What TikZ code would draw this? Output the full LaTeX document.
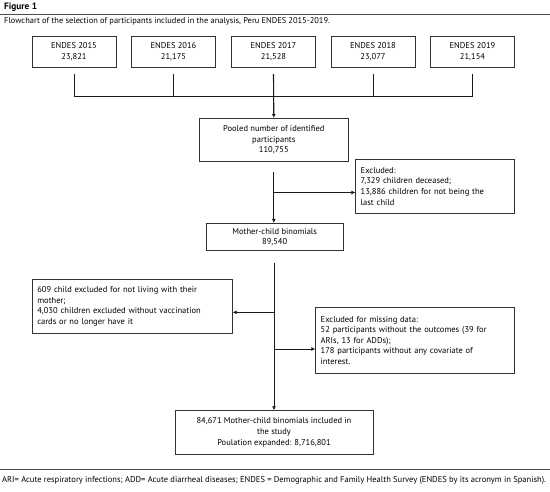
\documentclass[tikz,border=0pt]{standalone}
\usepackage{fontspec}
\setmainfont{PT Sans}
\usetikzlibrary{arrows.meta}
\newcommand\bodyfs{\fontsize{8.5}{10.6}\selectfont}
\newcommand\capfs{\fontsize{8.4}{9}\selectfont}
\newcommand\footfs{\fontsize{8.5}{9}\selectfont}
\begin{document}
\begin{tikzpicture}[x=1pt,y=-1pt,
  box/.style={draw=black!80, line width=0.7pt, inner xsep=4pt, inner ysep=0pt, align=center, font=\bodyfs},
  lbox/.style={draw=black!80, line width=0.7pt, inner xsep=5pt, inner ysep=0pt, align=left, font=\bodyfs},
  conn/.style={draw=black!90, line width=0.9pt},
  arr/.style={conn, -{Latex[length=4pt,width=4pt]}}]
\useasboundingbox (0,0) rectangle (550,491);
% header
\node[anchor=west, inner sep=0pt, font=\fontsize{9.3}{10}\selectfont\bfseries] (fig) at (4,6.7) {Figure 1};
\coordinate (rl) at (0,14);
\coordinate (rr) at (550,14);
\draw[line width=0.8pt, black!70] (rl) -- (rr);
\node[anchor=west, inner sep=0pt, font=\capfs] (cap) at (4,21.7) {Flowchart of the selection of participants included in the analysis, Peru ENDES 2015-2019.};
% year boxes
\foreach \n/\x/\yr/\v in {e1/74/2015/23{,}821, e2/173.5/2016/21{,}175, e3/273.5/2017/21{,}528, e4/373/2018/23{,}077, e5/472.5/2019/21{,}154}{
  \node[box, minimum width=84pt, minimum height=31pt] (\n) at (\x,51.5) {ENDES \yr\\\v};
}
\coordinate (bus) at (0,96);
\foreach \n in {e1,e2,e4,e5}{
  \draw[conn] ([yshift=-6.5pt]\n.south) -- (\n.south |- bus);
}
\draw[conn] (e1.south |- bus) -- (e5.south |- bus);
% pooled
\node[box, minimum width=149pt, minimum height=42.7pt] (pool) at (273.8,139.7) {Pooled number of identified\\participants\\110,755};
\draw[arr, line width=1.1pt] ([yshift=-6.5pt]e3.south) -- (pool.north);
% excluded 1
\node[lbox, minimum width=158.6pt, minimum height=54.3pt, text width=148.6pt] (ex1) at (435,186.2) {Excluded:\\7,329 children deceased;\\13,886 children for not being the\\last child};
% mother
\node[box, minimum width=137.3pt, minimum height=27.4pt] (moth) at (274.7,237) {Mother-child binomials\\89,540};
\draw[arr] ([yshift=-10.7pt]pool.south) -- (pool.south |- moth.north);
\coordinate (b1) at (273.8,192.5);
\draw[arr] (b1) -- (b1 -| ex1.west);
% left excluded
\node[lbox, minimum width=200pt, minimum height=54pt, text width=190pt] (exl) at (132.3,306.3) {609 child excluded for not living with their\\mother;\\4,030 children excluded without vaccination\\cards or no longer have it};
% right excluded
\node[lbox, minimum width=198.6pt, minimum height=66pt, text width=188.6pt] (exr) at (415,340.3) {Excluded for missing data:\\52 participants without the outcomes (39 for\\ARIs, 13 for ADDs);\\178 participants without any covariate of\\interest.};
% final
\node[box, minimum width=198pt, minimum height=43.3pt] (fin) at (274,432.3) {84,671 Mother-child binomials included in\\the study\\Poulation expanded: 8,716,801};
\coordinate (m0) at (274,263);
\draw[arr] (m0) -- (m0 |- fin.north);
\coordinate (b2) at (274,312.3);
\coordinate (b3) at (274,349);
\draw[arr] (b2) -- (b2 -| exl.east);
\draw[arr] (b3) -- (b3 -| exr.west);
% footer
\coordinate (fl) at (0,469.3);
\coordinate (fr) at (550,469.3);
\draw[line width=0.8pt, black!70] (fl) -- (fr);
\node[anchor=west, inner sep=0pt, font=\footfs] (foot) at (2,480.5) {ARI= Acute respiratory infections; ADD= Acute diarrheal diseases; ENDES = Demographic and Family Health Survey (ENDES by its acronym in Spanish).};
\end{tikzpicture}
\end{document}
